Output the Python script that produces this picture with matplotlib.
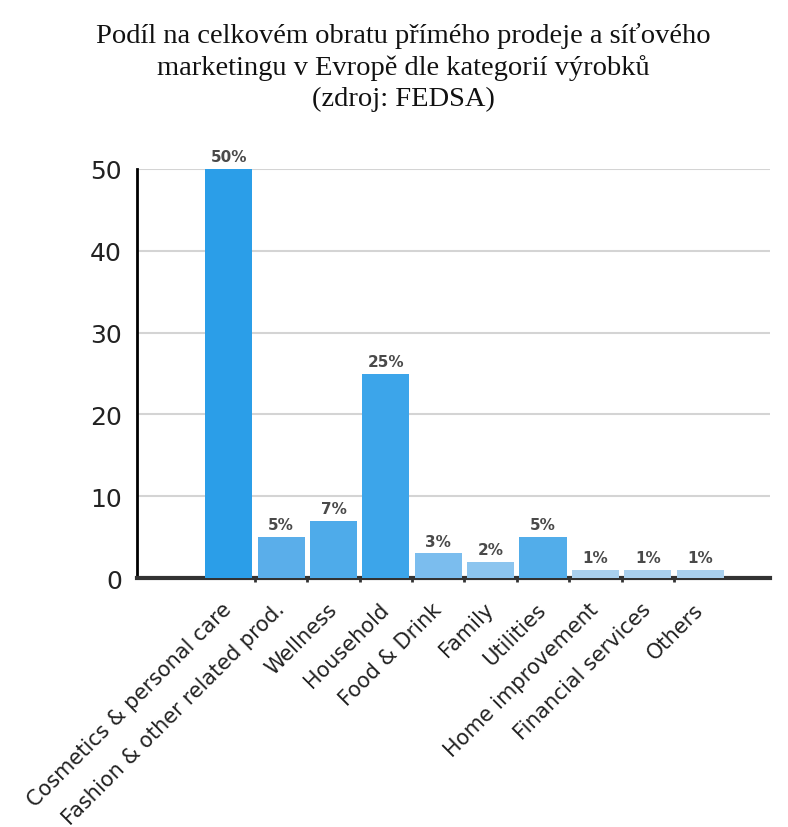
import numpy as np
import matplotlib.pyplot as plt

categories = ['Cosmetics & personal care', 'Fashion & other related prod.', 'Wellness',
              'Household', 'Food & Drink', 'Family', 'Utilities', 'Home improvement',
              'Financial services', 'Others']
shares = [50, 5, 7, 25, 3, 2, 5, 1, 1, 1]
colors = ['#2b9ee8', '#5aaeea', '#4eabea', '#3ca5ea', '#7bbdee', '#8cc5ef',
          '#52adea', '#a9d0ee', '#a9d0ee', '#a9d0ee']

fig = plt.figure(figsize=(7.88, 8.28), dpi=100)
ax = fig.add_axes([0.174, 0.3007, 0.803, 0.494])

x = np.arange(len(categories))
bars = ax.bar(x, shares, width=0.9, color=colors, zorder=3)

for b, v in zip(bars, shares):
    ax.text(b.get_x() + b.get_width() / 2, v + 0.6, f'{v}%', ha='center', va='bottom',
            fontsize=11, color='#4a4a4a', fontweight='bold', clip_on=False)

ax.set_xlim(-1.75, 10.33)
ax.set_ylim(0, 50)
ax.set_yticks([0, 10, 20, 30, 40, 50])
ax.grid(axis='y', color='#d4d4d4', linewidth=1.5, zorder=0)
ax.tick_params(axis='y', length=0, pad=11, labelsize=18, labelcolor='#222222')

ax.set_xticks(x)
ax.set_xticklabels(categories, rotation=45, ha='right', va='center',
                   rotation_mode='anchor', fontsize=15, color='#222222')
ax.tick_params(axis='x', length=0, pad=20)
ax.set_xticks(x[:-1] + 0.5, minor=True)
ax.tick_params(axis='x', which='minor', length=3, width=2, color='#333333')

for s in ['top', 'right']:
    ax.spines[s].set_visible(False)
ax.spines['left'].set_linewidth(2)
ax.spines['bottom'].set_linewidth(3)
ax.spines['bottom'].set_color('#333333')

fig.text(0.512, 0.972, 'Podíl na celkovém obratu přímého prodeje a síťového\n'
         'marketingu v Evropě dle kategorií výrobků\n(zdroj: FEDSA)',
         ha='center', va='top', fontsize=20.5, family='Liberation Serif',
         linespacing=1.3, color='#111111')

fig.savefig('out.png', dpi=100)
